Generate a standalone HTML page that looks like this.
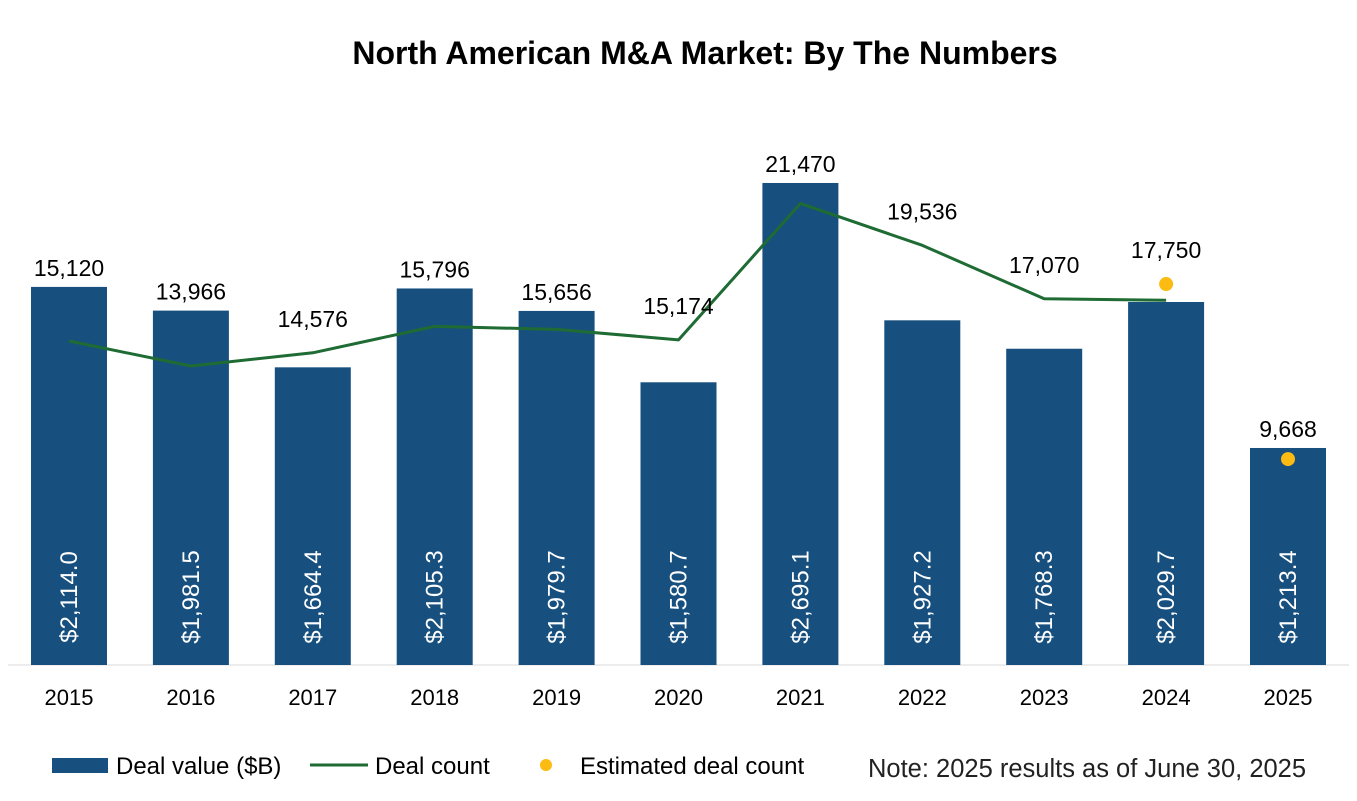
<!DOCTYPE html>
<html><head><meta charset="utf-8"><style>
body{margin:0;background:#fff;font-family:"Liberation Sans",Arial,sans-serif}
svg text{font-family:"Liberation Sans",Arial,sans-serif}
</style></head><body>
<svg id="chart" width="1357" height="796">
<text x="705" y="64" text-anchor="middle" font-size="32" font-weight="bold" fill="#000">North American M&amp;A Market: By The Numbers</text>
<line x1="8" y1="665" x2="1349" y2="665" stroke="#d9d9d9" stroke-width="1"/>
<g id="bars"></g><g id="line"></g><g id="labels"></g>
<g>
<rect x="52" y="758" width="56" height="15" fill="#174f7e"/>
<text x="116" y="774" font-size="24">Deal value ($B)</text>
<line x1="310" y1="765" x2="368" y2="765" stroke="#1e6b34" stroke-width="3"/>
<text x="375" y="774" font-size="24">Deal count</text>
<circle cx="546" cy="765" r="6" fill="#fbbb12"/>
<text x="580" y="774" font-size="24">Estimated deal count</text>
<text x="868" y="777" font-size="25.5" fill="#222">Note: 2025 results as of June 30, 2025</text>
</g>
</svg>
<script>
const years=["2015","2016","2017","2018","2019","2020","2021","2022","2023","2024","2025"];
const dealValues=[2114.0,1981.5,1664.4,2105.3,1979.7,1580.7,2695.1,1927.2,1768.3,2029.7,1213.4];
const dealCounts=[15120,13966,14576,15796,15656,15174,21470,19536,17070,17000];
const estimatedCounts=[null,null,null,null,null,null,null,null,null,17750,9668];
const countLabels=["15,120","13,966","14,576","15,796","15,656","15,174","21,470","19,536","17,070","17,750","9,668"];
const NS="http://www.w3.org/2000/svg";
const base=665;
const xc=i=>69+i*121.9;
const yv=v=>base-v*0.17885;
const yc=v=>668.5-v*0.02166;
function mk(t,a,p){const e=document.createElementNS(NS,t);for(const k in a)e.setAttribute(k,a[k]);p.appendChild(e);return e;}
const gb=document.getElementById('bars'),gl=document.getElementById('line'),gt=document.getElementById('labels');
dealValues.forEach((v,i)=>{
 const r=mk('rect',{x:xc(i)-38,y:yv(v),width:76,height:base-yv(v),fill:'#174f7e'},gb);
 
 
 const t=mk('text',{x:0,y:0,'font-size':24,fill:'#fff','text-anchor':'middle',transform:`translate(${xc(i)+8},597) rotate(-90)`},gt);
 t.textContent='$'+v.toLocaleString('en-US',{minimumFractionDigits:1,maximumFractionDigits:1});
 
 
 const a=mk('text',{x:xc(i),y:705,'font-size':22,'text-anchor':'middle',fill:'#000'},gt);
 a.textContent=years[i];
 
 
});
const pts=dealCounts.map((c,i)=>xc(i)+','+yc(c)).join(' ');
const pl=mk('polyline',{points:pts,fill:'none',stroke:'#1e6b34','stroke-width':3,'stroke-linejoin':'round'},gl);


estimatedCounts.forEach((c,i)=>{if(c==null)return;
 const d=mk('circle',{cx:xc(i),cy:yc(c),r:7,fill:'#fbbb12'},gl);
 
 
});
countLabels.forEach((s,i)=>{
 const c=estimatedCounts[i]!=null?estimatedCounts[i]:dealCounts[i];
 const bt=yv(dealValues[i]), lt=yc(c);
 const y=lt<bt?lt-26:bt-11;
 const t=mk('text',{x:xc(i),y:y,'font-size':23,'text-anchor':'middle',fill:'#000'},gt);
 t.textContent=s;
 
 
});
</script>
</body></html>
